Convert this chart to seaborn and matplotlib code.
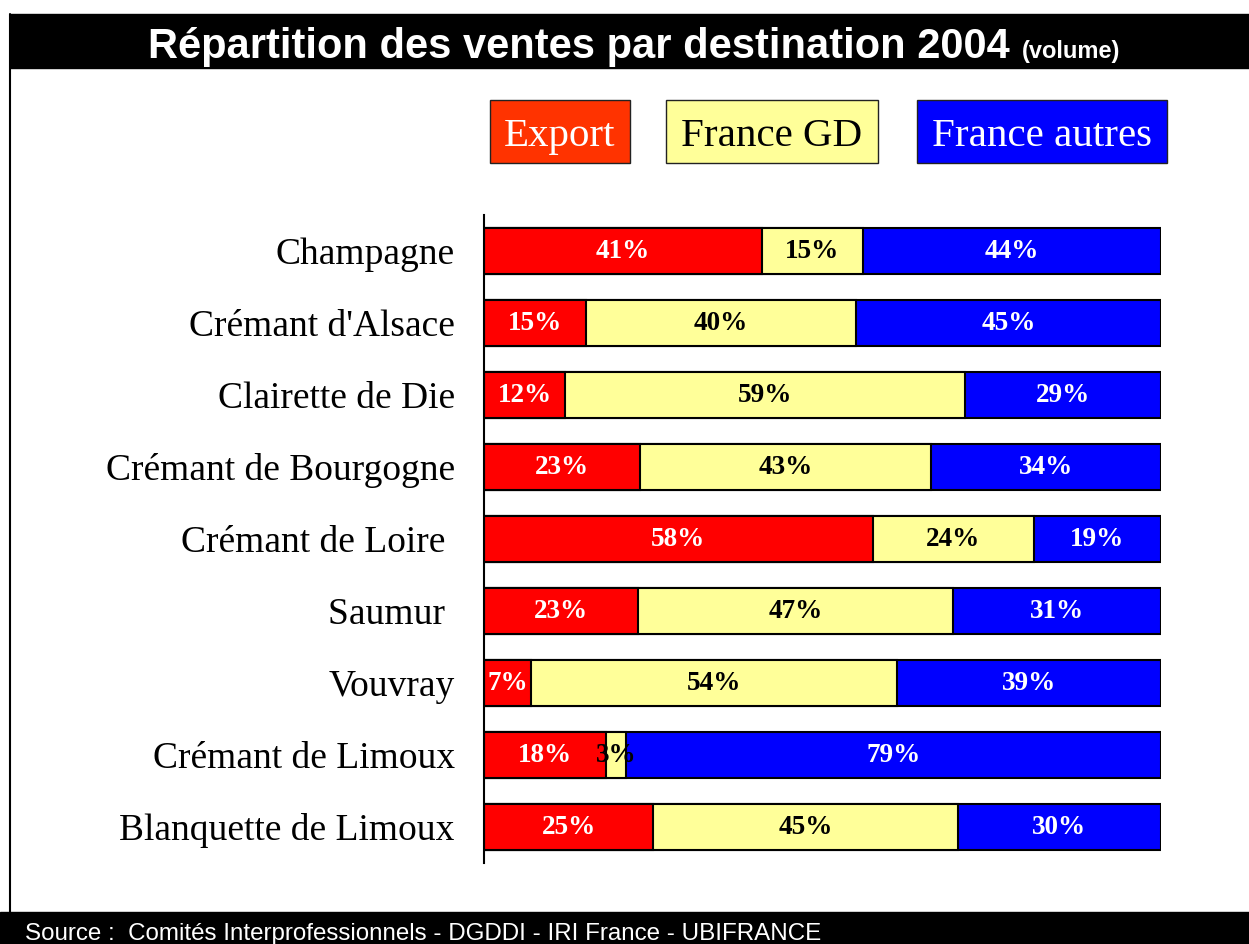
import numpy as np
import pandas as pd
import matplotlib.pyplot as plt
import seaborn as sns
from matplotlib.patches import Rectangle

categories = ['Champagne', "Crémant d'Alsace", 'Clairette de Die', 'Crémant de Bourgogne',
              'Crémant de Loire ', 'Saumur ', 'Vouvray', 'Crémant de Limoux',
              'Blanquette de Limoux']
export = [41, 15, 12, 23, 58, 23, 7, 18, 25]
france_gd = [15, 40, 59, 43, 24, 47, 54, 3, 45]
france_autres = [44, 45, 29, 34, 19, 31, 39, 79, 30]

series = ['Export', 'France GD', 'France autres']
colors = ['#FF0000', '#FFFF99', '#0000FF']
legend_colors = ['#FF3300', '#FFFF99', '#0000FF']
text_colors = ['white', 'black', 'white']

title = 'Répartition des ventes par destination 2004'
subtitle = '(volume)'
source = 'Source :  Comités Interprofessionnels - DGDDI - IRI France - UBIFRANCE'

W, H = 1249, 944

df = pd.DataFrame({'cat': categories, 'Export': export,
                   'France GD': france_gd, 'France autres': france_autres})
# les lignes arrondies ne font pas toujours 100 -> on normalise
shares = df[series].div(df[series].sum(axis=1), axis=0) * 100
cum = shares.cumsum(axis=1)

sns.set_style('white')
plt.rcParams['font.family'] = ['Liberation Serif', 'DejaVu Serif']

fig = plt.figure(figsize=(W / 100, H / 100), dpi=100)


def fx(px):
    return px / W


def fy(py):
    return 1 - py / H


# bandeau titre, pied de page, bord gauche
fig.patches.append(Rectangle((fx(10), fy(68)), 1 - fx(10), fy(14) - fy(68),
                             transform=fig.transFigure, color='black', zorder=0))
fig.patches.append(Rectangle((0, 0), 1, fy(912), transform=fig.transFigure,
                             color='black', zorder=0))
fig.lines.append(plt.Line2D([fx(10), fx(10)], [fy(912), fy(14)],
                            transform=fig.transFigure, color='black', lw=1.5))

sans = ['Liberation Sans', 'DejaVu Sans']
fig.text(fx(1010), fy(58), title, ha='right', va='baseline', color='white',
         fontsize=30, fontweight='bold', family=sans)
fig.text(fx(1022), fy(58), subtitle, ha='left', va='baseline', color='white',
         fontsize=17, fontweight='bold', family=sans)
fig.text(fx(25), fy(940), source, ha='left', va='baseline', color='white',
         fontsize=17.4, family=sans)

# légende en boîtes
boxes = [(490, 630), (666, 878), (917, 1167)]
for name, col, tcol, (x0, x1) in zip(series, legend_colors, text_colors, boxes):
    fig.patches.append(Rectangle((fx(x0), fy(163)), fx(x1 - x0), fy(100) - fy(163),
                                 transform=fig.transFigure, facecolor=col,
                                 edgecolor='#222222', lw=1))
    fig.text(fx((x0 + x1) / 2), fy(146), name, ha='center', va='baseline',
             color=tcol, fontsize=29.5)

ax = fig.add_axes([fx(484), fy(863), fx(1161 - 484), fy(215) - fy(863)])

for i in reversed(range(len(series))):
    sns.barplot(x=cum[series[i]], y=df['cat'], color=colors[i], saturation=1,
                edgecolor='black', linewidth=1.5, width=0.64, errorbar=None, ax=ax)

for j in range(len(categories)):
    for i, name in enumerate(series):
        val = df[name].iloc[j]
        left = cum[name].iloc[j] - shares[name].iloc[j]
        ax.text(left + shares[name].iloc[j] / 2, j, f'{val}%', ha='center', va='center',
                color=text_colors[i], fontsize=19.5, fontweight='bold')

ax.set_xlim(0, 100)
ax.set_ylim(len(categories) - 0.5, -0.5)
ax.set_xlabel('')
ax.set_ylabel('')
ax.set_xticks([])
ax.tick_params(axis='y', length=0, pad=21, labelsize=27, labelcolor='black')
for s in ['top', 'right', 'bottom']:
    ax.spines[s].set_visible(False)
ax.spines['left'].set_color('black')
ax.spines['left'].set_linewidth(1.5)
ax.set_facecolor('none')

fig.savefig('out.png', dpi=100)
